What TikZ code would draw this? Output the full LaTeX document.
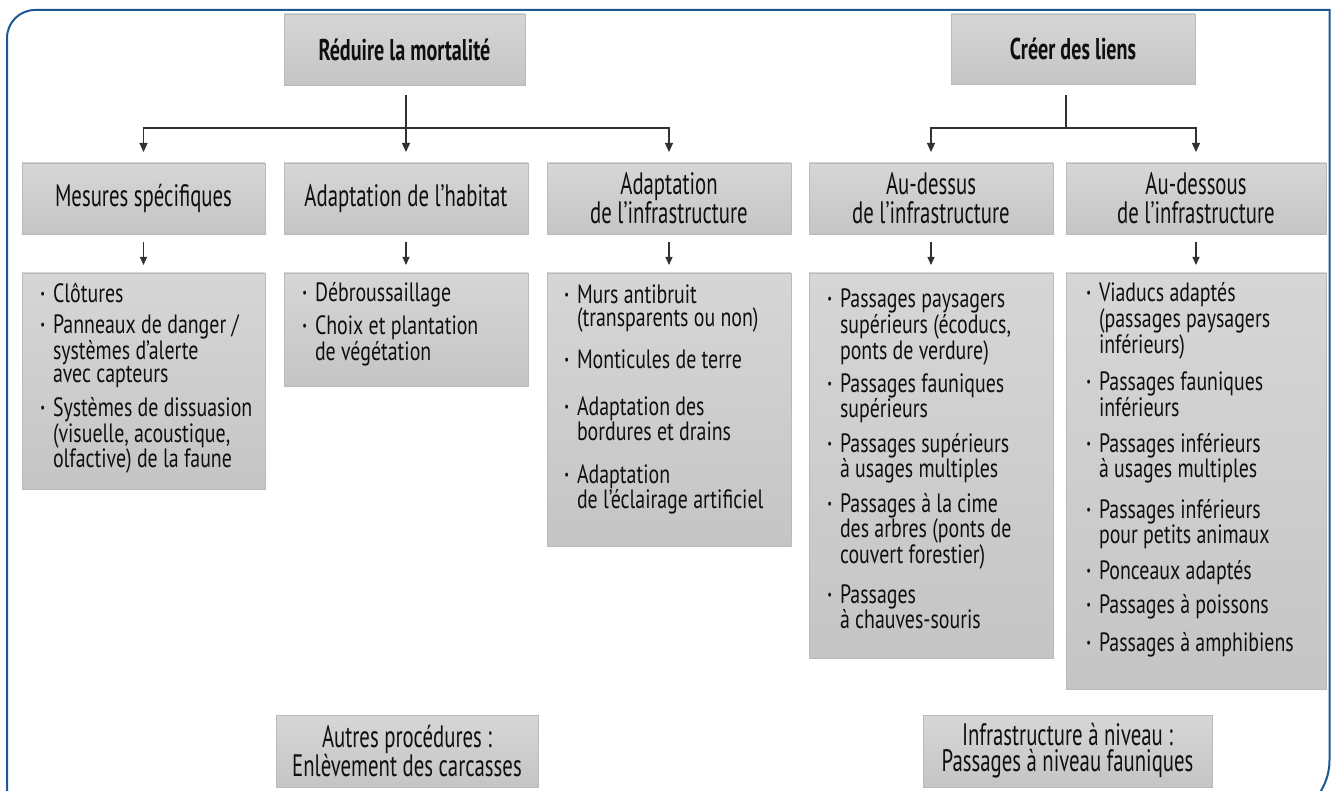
\documentclass[tikz,border=0pt]{standalone}
\usepackage{fontspec}
\setmainfont{PT Sans}[FakeStretch=0.75]
\newfontfamily\hdfont{PT Sans}[FakeStretch=0.67]
\usetikzlibrary{arrows.meta,calc}
\definecolor{frameblue}{RGB}{28,88,150}
\definecolor{boxtop}{RGB}{214,214,214}
\definecolor{boxbot}{RGB}{197,197,197}
\definecolor{boxline}{RGB}{186,186,186}
\definecolor{ink}{RGB}{15,15,15}
\definecolor{lnc}{RGB}{50,50,50}
\newcommand\bul{\raisebox{4pt}{\fontsize{14}{14}\selectfont\textbullet}}
\newcommand\bitem[4]{\node[itm] (#1) at (#2,#3) {\parbox[t]{235pt}{\raggedright\leavevmode\llap{\bul\hspace{8pt}}#4}};}
\begin{document}
\begin{tikzpicture}[x=1pt,y=-1pt,
  box/.style={draw=boxline, line width=0.7pt, top color=boxtop, bottom color=boxbot,
    inner sep=0pt, outer sep=0pt, align=center, text=ink,
    font=\hdfont\fontsize{31}{29}\selectfont},
  ttl/.style={box, font=\hdfont\bfseries\fontsize{30}{29}\selectfont},
  lbox/.style={box, anchor=north west},
  itm/.style={anchor=base west, inner sep=0pt, outer sep=0pt, text=ink,
    font=\fontsize{26.5}{22.5}\selectfont},
  ln/.style={draw=lnc, line width=1.2pt},
  arr/.style={ln, -{Triangle[width=8pt,length=9pt]}},
  darr/.style={ln, {Triangle[width=8pt,length=9pt]}-{Triangle[width=8pt,length=9pt]}},
  sarr/.style={ln, line width=1.1pt, -{Triangle[width=7pt,length=8pt]}}
]
\useasboundingbox (0,0) rectangle (1333,791);
\fill[white] (0,0) rectangle (1333,791);
% frame
\draw[frameblue, line width=2pt] (7,830) -- (7,38) arc[start angle=180, end angle=270, radius=28]
  -- (1329.5,10) -- (1329.5,760) arc[start angle=0, end angle=90, radius=60] -- (1150,820);

% titles
\node[ttl, minimum width=241, minimum height=71] (reduire) at (404.5,49.5) {Réduire la mortalité};
\node[ttl, minimum width=244, minimum height=70] (creer) at (1073,49) {Créer des liens};

% level 2
\node[box, minimum width=243, minimum height=71] (mesures) at (143.5,198.5) {Mesures spécifiques};
\node[box, minimum width=244, minimum height=71] (habitat) at (406,198.5) {Adaptation de l’habitat};
\node[box, minimum width=244, minimum height=71] (infra) at (669,198.5) {Adaptation\\de l’infrastructure};
\node[box, minimum width=244, minimum height=71] (dessus) at (931,198.5) {Au-dessus\\de l’infrastructure};
\node[box, minimum width=260, minimum height=71] (dessous) at (1196,198.5) {Au-dessous\\de l’infrastructure};

% level 3 boxes
\node[lbox, minimum width=243, minimum height=216] (mesL) at (22,273) {};
\node[lbox, minimum width=244, minimum height=113] (habL) at (284,273) {};
\node[lbox, minimum width=244, minimum height=273] (infL) at (547,273) {};
\node[lbox, minimum width=244, minimum height=385] (dssL) at (809,273) {};
\node[lbox, minimum width=260, minimum height=416] (dsoL) at (1066,273) {};

% items
\bitem{m1}{53}{303}{Clôtures}
\bitem{m2}{53}{334}{Panneaux de danger /\\systèmes d’alerte\\avec capteurs}
\bitem{m3}{53}{417}{Systèmes de dissuasion\\(visuelle, acoustique,\\olfactive) de la faune}

\bitem{h1}{315}{302}{Débroussaillage}
\bitem{h2}{315}{335}{Choix et plantation\\de végétation}

\bitem{i1}{577}{304}{Murs antibruit\\(transparents ou non)}
\bitem{i2}{577}{369}{Monticules de terre}
\bitem{i3}{577}{415}{Adaptation des\\bordures et drains}
\bitem{i4}{577}{483}{Adaptation\\de l’éclairage artificiel}

\bitem{a1}{840}{308}{Passages paysagers\\supérieurs (écoducs,\\ponts de verdure)}
\bitem{a2}{840}{392}{Passages fauniques\\supérieurs}
\bitem{a3}{840}{452}{Passages supérieurs\\à usages multiples}
\bitem{a4}{840}{512}{Passages à la cime\\des arbres (ponts de\\couvert forestier)}
\bitem{a5}{840}{603}{Passages\\à chauves-souris}

\bitem{b1}{1099}{302}{Viaducs adaptés\\(passages paysagers\\inférieurs)}
\bitem{b2}{1099}{391}{Passages fauniques\\inférieurs}
\bitem{b3}{1099}{452}{Passages inférieurs\\à usages multiples}
\bitem{b4}{1099}{518}{Passages inférieurs\\pour petits animaux}
\bitem{b5}{1099}{579}{Ponceaux adaptés}
\bitem{b6}{1099}{613}{Passages à poissons}
\bitem{b7}{1099}{651}{Passages à amphibiens}

% bottom boxes
\node[box, minimum width=262, minimum height=72, font=\hdfont\fontsize{31}{26}\selectfont] (autres) at (407,751) {Autres procédures :\\Enlèvement des carcasses};
\node[box, minimum width=289, minimum height=72, font=\hdfont\fontsize{31}{26}\selectfont] (niveau) at (1067.5,751) {Infrastructure à niveau :\\Passages à niveau fauniques};

% connectors: Réduire la mortalité
\coordinate (rtop) at ($(reduire.south)+(0,10)$);
\coordinate (rbar) at ($(reduire.south)+(0,43)$);
\draw[arr] (rtop -| habitat.north) -- ($(habitat.north)+(0,-11)$);
\draw[darr] ($(mesures.north)+(0,-11)$) |- (rbar) -| ($(infra.north)+(0,-11)$);

% connectors: Créer des liens
\coordinate (ctop) at ($(creer.south)+(-7,11)$);
\coordinate (cbar) at ($(creer.south)+(-7,44)$);
\draw[ln] (ctop) -- (cbar);
\draw[darr] ($(dessus.north)+(0,-11)$) |- (cbar) -| ($(dessous.north)+(0,-11)$);

% small arrows
\draw[sarr] ($(mesures.south)+(0,8)$) -- ($(mesL.north)+(0,-8)$);
\draw[sarr] ($(habitat.south)+(0,8)$) -- ($(habL.north)+(0,-8)$);
\draw[sarr] ($(infra.south)+(0,8)$) -- ($(infL.north)+(0,-8)$);
\draw[sarr] ($(dessus.south)+(0,8)$) -- ($(dssL.north)+(0,-8)$);
\draw[sarr] ($(dessous.south)+(0,8)$) -- ($(dsoL.north)+(0,-8)$);
\end{tikzpicture}
\end{document}
